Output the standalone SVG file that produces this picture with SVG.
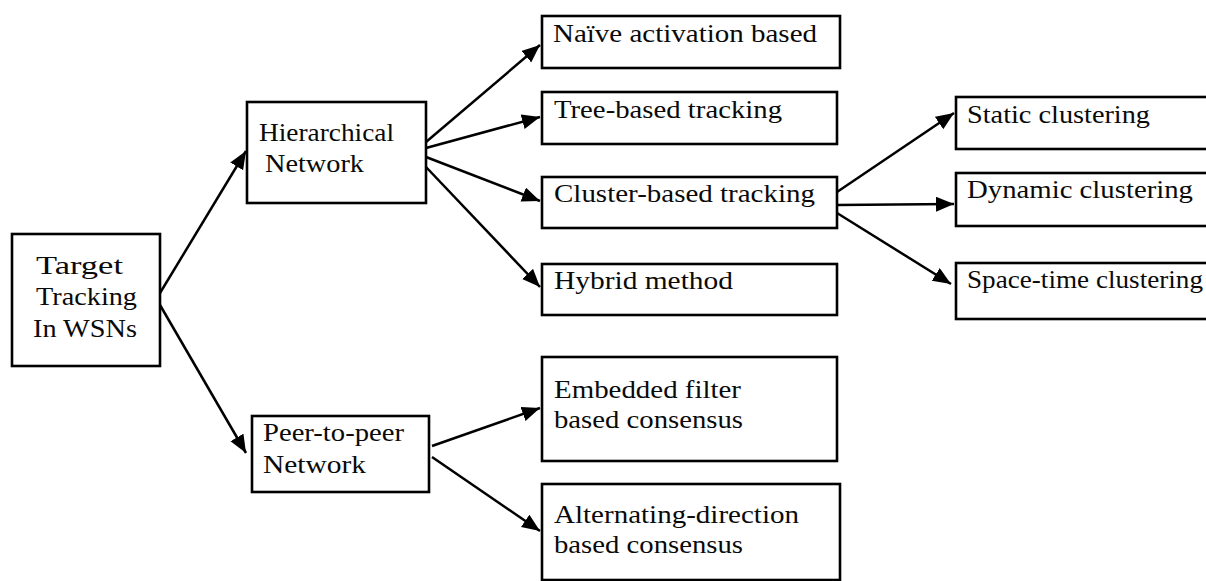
<svg xmlns="http://www.w3.org/2000/svg" width="1206" height="581" viewBox="0 0 1206 581">
<defs>
<style>
.box{fill:#fff;stroke:#000;stroke-width:2.6}
.lbl{font-family:"Liberation Serif","Times New Roman",serif;font-size:26px;fill:#0a0a0a}
.con{stroke:#000;stroke-width:2.5;fill:none;marker-end:url(#ah)}
</style>
<marker id="ah" markerUnits="userSpaceOnUse" markerWidth="20" markerHeight="16" refX="18" refY="7.5" orient="auto">
<path d="M0,0 L18,7.5 L0,15 z" fill="#000"/>
</marker>
</defs>
<rect width="1206" height="581" fill="#fff"/>
<g id="connectors">
<line class="con" x1="160" y1="293" x2="246" y2="151"/>
<line class="con" x1="160" y1="305" x2="246" y2="453"/>
<line class="con" x1="426" y1="142" x2="540" y2="45"/>
<line class="con" x1="426" y1="148" x2="540" y2="117"/>
<line class="con" x1="426" y1="157" x2="540" y2="201"/>
<line class="con" x1="426" y1="167" x2="540" y2="287"/>
<line class="con" x1="837" y1="192" x2="954" y2="113"/>
<line class="con" x1="837" y1="205" x2="954" y2="204"/>
<line class="con" x1="837" y1="213" x2="951" y2="284"/>
<line class="con" x1="432" y1="446" x2="540" y2="408"/>
<line class="con" x1="432" y1="457" x2="540" y2="531"/>
</g>
<g id="root">
<rect class="box" x="12" y="234" width="148" height="132"/>
<text class="lbl" x="36" y="274" textLength="87" lengthAdjust="spacingAndGlyphs">Target</text>
<text class="lbl" x="36" y="305" textLength="101" lengthAdjust="spacingAndGlyphs">Tracking</text>
<text class="lbl" x="33" y="337" textLength="104" lengthAdjust="spacingAndGlyphs">In WSNs</text>
</g>
<g id="hierarchical">
<rect class="box" x="247" y="102" width="179" height="101"/>
<text class="lbl" x="259" y="141" textLength="135" lengthAdjust="spacingAndGlyphs">Hierarchical</text>
<text class="lbl" x="265" y="172" textLength="99" lengthAdjust="spacingAndGlyphs">Network</text>
</g>
<g id="peer">
<rect class="box" x="252" y="416" width="177" height="76"/>
<text class="lbl" x="263" y="441" textLength="141" lengthAdjust="spacingAndGlyphs">Peer-to-peer</text>
<text class="lbl" x="263" y="473" textLength="103" lengthAdjust="spacingAndGlyphs">Network</text>
</g>
<g id="naive">
<rect class="box" x="542" y="16" width="298" height="52"/>
<text class="lbl" x="553" y="42" textLength="264" lengthAdjust="spacingAndGlyphs">Naïve activation based</text>
</g>
<g id="tree">
<rect class="box" x="542" y="92" width="295" height="52"/>
<text class="lbl" x="554" y="118" textLength="228" lengthAdjust="spacingAndGlyphs">Tree-based tracking</text>
</g>
<g id="cluster">
<rect class="box" x="542" y="177" width="295" height="51"/>
<text class="lbl" x="554" y="202" textLength="261" lengthAdjust="spacingAndGlyphs">Cluster-based tracking</text>
</g>
<g id="hybrid">
<rect class="box" x="542" y="264" width="295" height="51"/>
<text class="lbl" x="554" y="289" textLength="179" lengthAdjust="spacingAndGlyphs">Hybrid method</text>
</g>
<g id="static">
<rect class="box" x="956" y="97" width="260" height="52"/>
<text class="lbl" x="967" y="123" textLength="183" lengthAdjust="spacingAndGlyphs">Static clustering</text>
</g>
<g id="dynamic">
<rect class="box" x="956" y="173" width="260" height="53"/>
<text class="lbl" x="967" y="198" textLength="226" lengthAdjust="spacingAndGlyphs">Dynamic clustering</text>
</g>
<g id="spacetime">
<rect class="box" x="956" y="263" width="260" height="56"/>
<text class="lbl" x="967" y="288" textLength="236" lengthAdjust="spacingAndGlyphs">Space-time clustering</text>
</g>
<g id="embedded">
<rect class="box" x="542" y="357" width="295" height="104"/>
<text class="lbl" x="554" y="398" textLength="187" lengthAdjust="spacingAndGlyphs">Embedded filter</text>
<text class="lbl" x="554" y="428" textLength="189" lengthAdjust="spacingAndGlyphs">based consensus</text>
</g>
<g id="alternating">
<rect class="box" x="542" y="484" width="298" height="96"/>
<text class="lbl" x="554" y="523" textLength="245" lengthAdjust="spacingAndGlyphs">Alternating-direction</text>
<text class="lbl" x="554" y="553" textLength="189" lengthAdjust="spacingAndGlyphs">based consensus</text>
</g>
</svg>
